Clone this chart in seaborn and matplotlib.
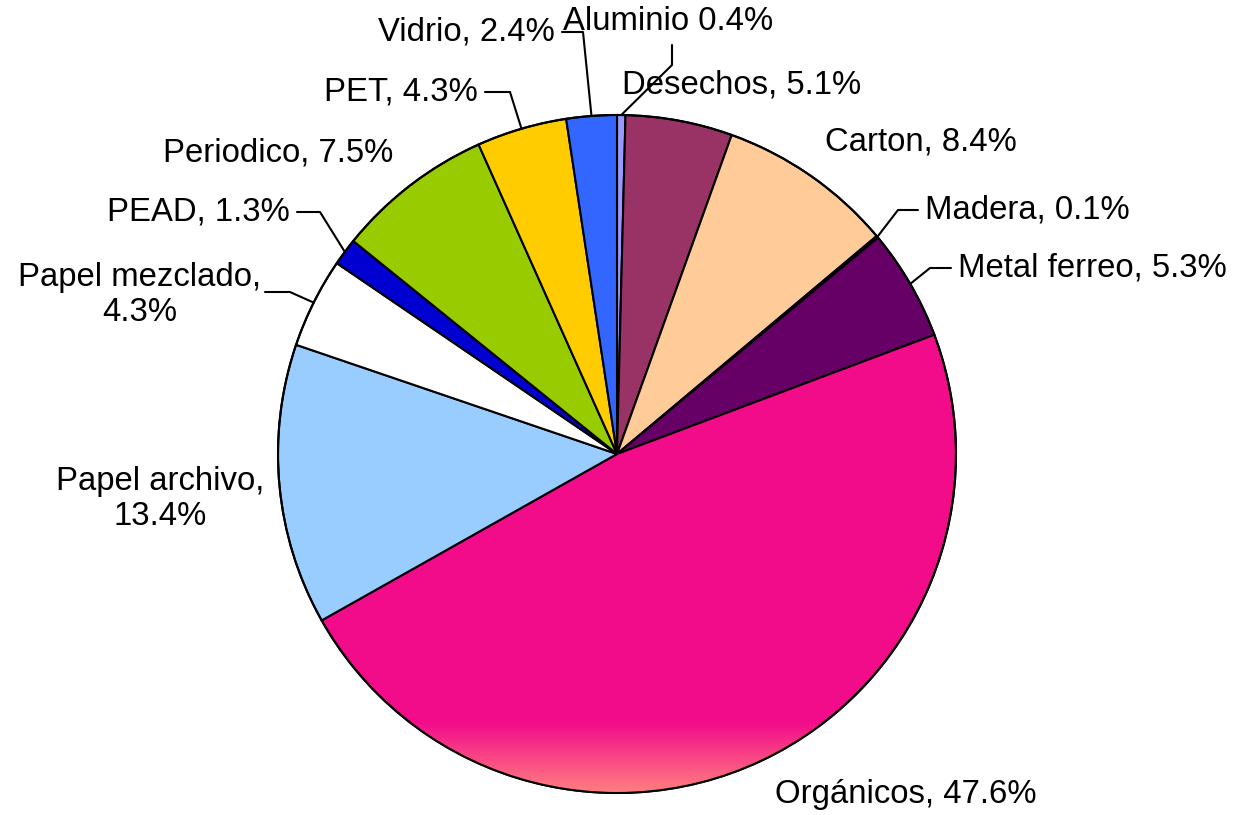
import numpy as np
import matplotlib.pyplot as plt
import seaborn as sns
from matplotlib.colors import LinearSegmentedColormap

# Composition data (clockwise from 12 o'clock)
materials = ["Aluminio", "Desechos", "Carton", "Madera", "Metal ferreo", "Orgánicos",
             "Papel archivo", "Papel mezclado", "PEAD", "Periodico", "PET", "Vidrio"]
shares = [0.4, 5.1, 8.4, 0.1, 5.3, 47.6, 13.4, 4.3, 1.3, 7.5, 4.3, 2.4]
label_texts = ["Aluminio 0.4%", "Desechos, 5.1%", "Carton, 8.4%", "Madera, 0.1%",
               "Metal ferreo, 5.3%", "Orgánicos, 47.6%", "Papel archivo,\n13.4%",
               "Papel mezclado,\n4.3%", "PEAD, 1.3%", "Periodico, 7.5%", "PET, 4.3%",
               "Vidrio, 2.4%"]

colors = ["#9999FF", "#993366", "#FFCC99", "#FFFFCC", "#660066", "#F20C8A",
          "#99CCFF", "#FFFFFF", "#0000D0", "#99CC00", "#FFCC00", "#3366FF"]

# -------------------------------
# Layout (pixel coords, y from top)
# -------------------------------
W, H = 1233, 815
cx, cy, r = 617, H - 454, 339

# text x, text y, alignment, leader points (None = no leader)
label_layout = [
    (668, 22, "center", [(672, 45), (672, 65)]),
    (622, 85, "left", None),
    (825, 142, "left", None),
    (925, 210, "left", [(918, 210), (898, 210)]),
    (958, 268, "left", [(951, 268), (930, 268)]),
    (775, 795, "left", None),
    (160, 499, "center", None),
    (140, 295, "center", [(265, 292), (290, 292)]),
    (290, 212, "right", [(297, 212), (320, 212)]),
    (393, 153, "right", None),
    (478, 92, "right", [(485, 92), (510, 92)]),
    (555, 32, "right", [(562, 32), (583, 32)]),
]

sns.set_theme(style="white")
plt.rcParams['font.family'] = ['Liberation Sans', 'DejaVu Sans']

fig = plt.figure(figsize=(W / 100, H / 100), dpi=100)
ax = fig.add_axes([0, 0, 1, 1])

wedges, _ = ax.pie(shares, colors=colors, startangle=90, counterclock=False,
                   center=(cx, cy), radius=r,
                   wedgeprops=dict(edgecolor="black", linewidth=1.5))
ax.set_xlim(0, W)
ax.set_ylim(0, H)
ax.set_aspect("equal")
ax.axis("off")

# gradient at the bottom of Orgánicos
org = materials.index("Orgánicos")
cmap = LinearSegmentedColormap.from_list("org", [colors[org], "#FF8080"])
grad = np.linspace(0, 1, 256).reshape(-1, 1)
im = ax.imshow(grad, cmap=cmap, extent=(cx - r, cx + r, cy - r, H - 722),
               origin="upper", aspect="auto", zorder=1.5)
im.set_clip_path(wedges[org])
ax.add_patch(plt.Circle((cx, cy), r, fill=False, ec="black", lw=1.5, zorder=2))

# labels + leader lines
for w, txt, (tx, ty, ha, leader) in zip(wedges, label_texts, label_layout):
    ax.text(tx, H - ty, txt, ha=ha, va="center", fontsize=23.7, color="black",
            zorder=4, linespacing=1.15)
    if leader:
        mid = np.deg2rad((w.theta1 + w.theta2) / 2)
        ex, ey = cx + r * np.cos(mid), cy + r * np.sin(mid)
        xs = [p[0] for p in leader] + [ex]
        ys = [H - p[1] for p in leader] + [ey]
        ax.plot(xs, ys, color="black", lw=1.5, zorder=3)

fig.savefig("out.png", dpi=100)
